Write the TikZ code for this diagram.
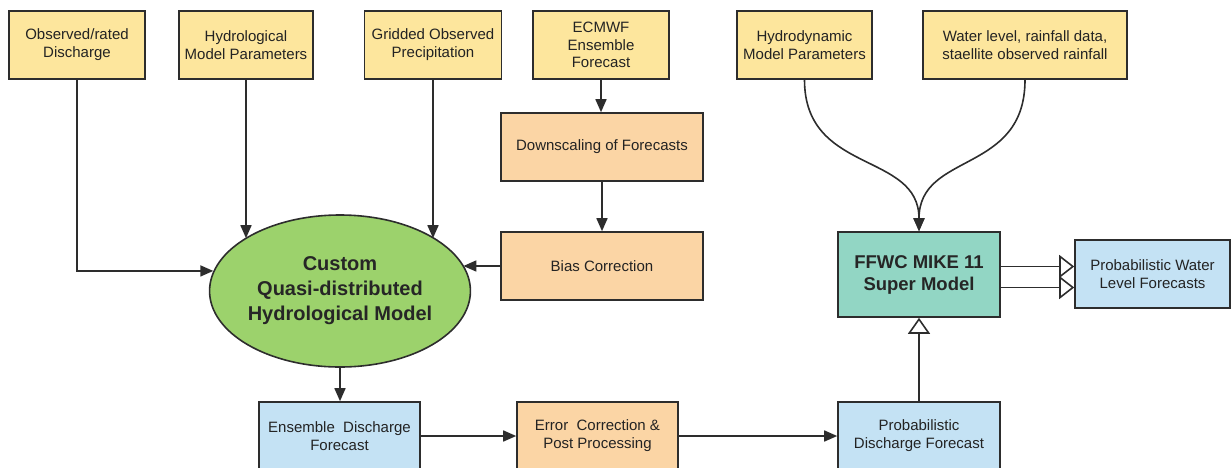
\documentclass[tikz,border=0pt]{standalone}
\usepackage{fontspec}
\setmainfont{Liberation Sans}
\usetikzlibrary{shapes.geometric,arrows.meta}
\definecolor{inputyellow}{RGB}{253,230,157}
\definecolor{procorange}{RGB}{251,213,165}
\definecolor{outblue}{RGB}{196,226,244}
\definecolor{superteal}{RGB}{146,214,196}
\definecolor{modelgreen}{RGB}{156,210,108}
\definecolor{edgegray}{RGB}{45,45,45}
\definecolor{textgray}{RGB}{35,35,35}
\begin{document}
\begin{tikzpicture}[x=1pt,y=-1pt,
	box/.style={draw=edgegray, line width=1.6pt, align=center, text=textgray, inner sep=0pt,
		minimum height=68pt, font=\fontsize{15}{18}\selectfont},
	inbox/.style={box, fill=inputyellow},
	procbox/.style={box, fill=procorange, minimum width=202pt},
	outbox/.style={box, fill=outblue},
	modelell/.style={ellipse, draw=edgegray, line width=1.6pt, fill=modelgreen, align=center,
		inner sep=0pt, minimum width=254pt, minimum height=152pt, text=black!85,
		font=\bfseries\fontsize{20}{25}\selectfont},
	arr/.style={draw=edgegray, line width=1.6pt, -{Triangle[length=13pt,width=11pt]}},
	hollow/.style={draw=edgegray, line width=1.6pt, -{Triangle[open,length=16pt,width=22pt]}},
	dblarr/.style={draw=edgegray, line width=1.6pt, -{Triangle[open,length=15pt,width=23pt]}}]
	\clip (0,0) rectangle (1232,467);

	% Input data
	\node[inbox, minimum width=136pt] (obs) at (77,45) {Observed/rated\\Discharge};
	\node[inbox, minimum width=134pt] (hydpar) at (246,45) {Hydrological\\Model Parameters};
	\node[inbox, minimum width=137pt] (grid) at (433,45) {Gridded Observed\\Precipitation};
	\node[inbox, minimum width=136pt, font=\fontsize{15}{17.5}\selectfont] (ecmwf) at (601,45) {ECMWF\\Ensemble\\Forecast};
	\node[inbox, minimum width=135pt] (hdyn) at (804.5,45) {Hydrodynamic\\Model Parameters};
	\node[inbox, minimum width=204pt] (wl) at (1025,45) {Water level, rainfall data,\\staellite observed rainfall};

	% Forecast processing
	\node[procbox] (down) at (602,147) {Downscaling of Forecasts};
	\node[procbox] (bias) at (602,266) {Bias Correction};

	% Models
	\node[modelell] (model) at (340,291) {Custom\\Quasi-distributed\\Hydrological Model};
	\node[box, fill=superteal, minimum width=162pt, minimum height=85pt, text=black!85,
		font=\bfseries\fontsize{18.5}{22}\selectfont] (ffwc) at (919,274.5) {FFWC MIKE 11\\Super Model};

	% Outputs
	\node[outbox, minimum width=161pt] (ens) at (339.5,436) {Ensemble\ \ Discharge\\Forecast};
	\node[procbox, minimum width=161pt] (err) at (597.5,436) {Error\ \ Correction \&\\Post Processing};
	\node[outbox, minimum width=162pt] (pdis) at (919,436) {Probabilistic\\Discharge Forecast};
	\node[outbox, minimum width=155pt] (pwl) at (1152.5,274) {Probabilistic Water\\Level Forecasts};

	% Inputs to the hydrological model
	\draw[arr] (obs.south) |- (model.171);
	\draw[arr] (hydpar.south) -- (hydpar.south |- model.151);
	\draw[arr] (grid.south) -- (grid.south |- model.29);

	% Forecast chain
	\draw[arr] (ecmwf.south) -- (ecmwf.south |- down.north);
	\draw[arr] (down) -- (bias);
	\draw[arr] (bias.west) -- (bias.west -| model.12);

	% Discharge forecasts
	\draw[arr] (model.south) -- (model.south |- ens.north);
	\draw[arr] (ens) -- (err);
	\draw[arr] (err) -- (pdis);
	\draw[hollow] (pdis) -- (ffwc);

	% Hydrodynamic inputs
	\draw[arr] (hdyn.south) .. controls +(0,95) and +(0,-80) .. (ffwc.north);
	\draw[arr] (wl.south) .. controls +(0,95) and +(0,-80) .. (ffwc.north);

	% Water level output
	\draw[dblarr] ([yshift=8pt]ffwc.east) -- ([yshift=8pt]ffwc.east -| pwl.west);
	\draw[dblarr] ([yshift=-13pt]ffwc.east) -- ([yshift=-13pt]ffwc.east -| pwl.west);
\end{tikzpicture}
\end{document}
